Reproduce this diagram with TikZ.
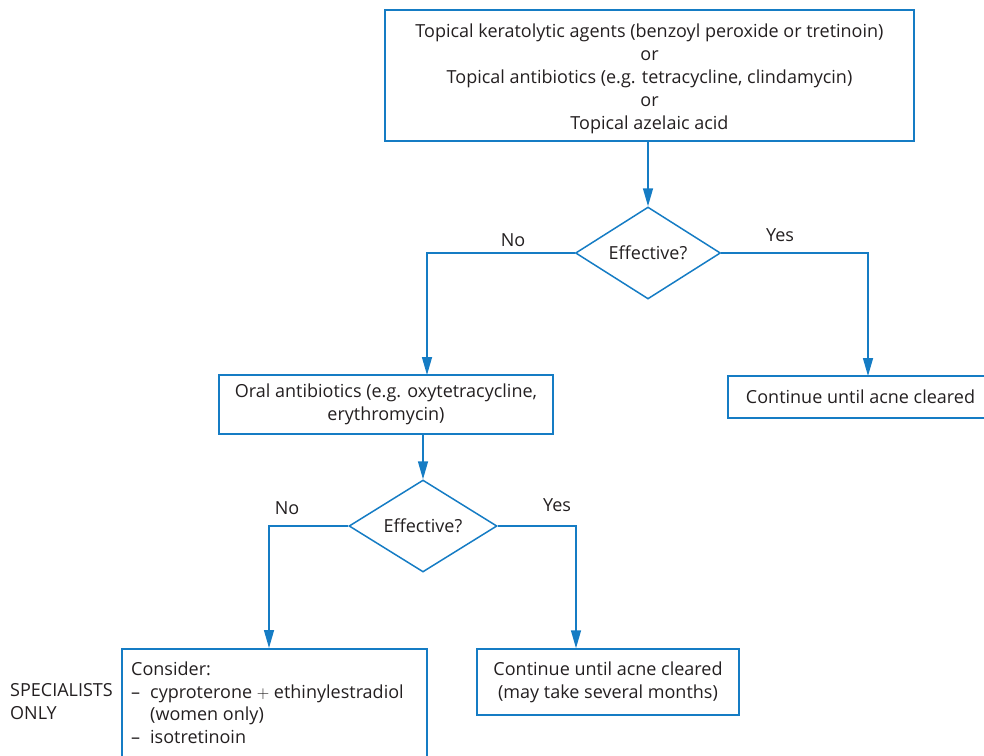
\documentclass[tikz,border=0pt]{standalone}
\usepackage{fontspec}
\setmainfont{Open Sans}
\usetikzlibrary{shapes.geometric,arrows.meta}
\definecolor{flowblue}{HTML}{157CC4}
\definecolor{txt}{HTML}{231F20}
\tikzset{
  box/.style={draw=flowblue, line width=1.5pt, rectangle, inner sep=0pt, align=center, text=txt},
  dec/.style={draw=flowblue, line width=1.5pt, diamond, aspect=1.58, inner sep=0pt, text=txt},
  lbl/.style={text=txt, inner sep=0pt},
  conn/.style={draw=flowblue, line width=1.5pt},
  arr/.style={conn, -{Triangle[width=10pt,length=18pt]}},
}
\begin{document}
\begin{tikzpicture}[x=1pt,y=-1pt, font=\fontsize{18}{23}\selectfont]
\clip (0,0) rectangle (984,755);
\useasboundingbox (0,0) rectangle (984,755);
\node[box, minimum width=529pt, minimum height=131pt] (top) at (649.5,75.5) {};
\node[lbl, align=center] (toptxt) at (649.5,78.5)
  {Topical keratolytic agents (benzoyl peroxide or tretinoin)\\or\\Topical antibiotics (e.g. tetracycline, clindamycin)\\or\\Topical azelaic acid};
\node[dec, minimum width=145pt, minimum height=92pt] (d1) at (648,253) {Effective?};
\node[box, minimum width=334pt, minimum height=59pt] (oral) at (386,404.5)
  {Oral antibiotics (e.g. oxytetracycline,\\erythromycin)};
\node[box, minimum width=265pt, minimum height=42pt] (cont1) at (860.5,397) {Continue until acne cleared};
\node[dec, minimum width=148pt, minimum height=92pt] (d2) at (423,526) {Effective?};
\node[box, minimum width=305pt, minimum height=130pt, anchor=north west] (consider) at (121,648) {};
\node[lbl, anchor=north west, align=left, font=\fontsize{18}{22.5}\selectfont] (considertxt) at (131,662)
  {Consider:\\\makebox[19pt][l]{–}cyproterone $+$ ethinylestradiol\\\hspace*{19pt}(women only)\\\makebox[19pt][l]{–}isotretinoin};
\node[box, minimum width=262pt, minimum height=66pt] (cont2) at (608,682)
  {Continue until acne cleared\\(may take several months)};
\node[lbl, anchor=north west, align=left] (spec) at (10,683) {SPECIALISTS\\ONLY};
\node[lbl] (no1) at (513,240) {No};
\node[lbl] (yes1) at (780,235) {Yes};
\node[lbl] (no2) at (287,508) {No};
\node[lbl] (yes2) at (557,505) {Yes};
\coordinate (c1) at (868,376);
\coordinate (o1) at (423,434);
\draw[arr] (top.south -| d1.north) -- (d1.north);
\draw[arr] (d1.west) -| (427,375);
\draw[arr] (d1.east) -| (c1);
\draw[arr] (o1) -- (d2.north);
\draw[arr] (d2.west) -| (consider.north -| 269,0);
\draw[arr] (d2.east) -| (cont2.north -| 576,0);
\end{tikzpicture}
\end{document}
